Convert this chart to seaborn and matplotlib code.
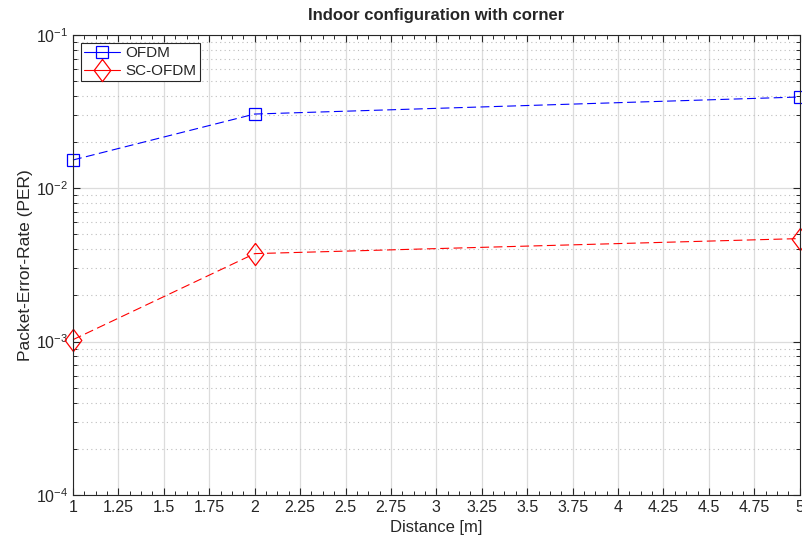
import numpy as np
import pandas as pd
import matplotlib
matplotlib.use('Agg')
import matplotlib.pyplot as plt
import seaborn as sns
from matplotlib.ticker import LogLocator, NullFormatter, MultipleLocator, FixedLocator

# data
distance = [1, 2, 5]
per_ofdm = [0.0153, 0.0305, 0.0394]
per_scofdm = [0.00103, 0.00375, 0.0047]
x_ticks = [1, 1.25, 1.5, 1.75, 2, 2.25, 2.5, 2.75, 3, 3.25, 3.5, 3.75, 4, 4.25, 4.5, 4.75, 5]
x_tick_labels = ['1', '1.25', '1.5', '1.75', '2', '2.25', '2.5', '2.75', '3', '3.25',
                 '3.5', '3.75', '4', '4.25', '4.5', '4.75', '5']
y_ticks = [1e-4, 1e-3, 1e-2, 1e-1]
y_tick_labels = ['10$^{-4}$', '10$^{-3}$', '10$^{-2}$', '10$^{-1}$']

sns.set_style('white')
plt.rcParams['font.family'] = ['Liberation Sans', 'DejaVu Sans']
plt.rcParams['mathtext.fontset'] = 'custom'
plt.rcParams['mathtext.rm'] = 'Liberation Sans'
plt.rcParams['mathtext.it'] = 'Liberation Sans'
plt.rcParams['axes.unicode_minus'] = False

fig = plt.figure(figsize=(8.03, 5.38), dpi=100)
ax = fig.add_axes([0.0909, 0.080, 0.905, 0.855])

# tall diamond like MATLAB's
diamond = [(0, 1), (0.75, 0), (0, -1), (-0.75, 0), (0, 1)]

sns.lineplot(x=distance, y=per_ofdm, color='blue', marker='s', markersize=9,
             markerfacecolor='none', markeredgecolor='blue', markeredgewidth=0.9,
             linewidth=0.8, ax=ax, label='OFDM', clip_on=False)
sns.lineplot(x=distance, y=per_scofdm, color='red', marker=diamond, markersize=16,
             markerfacecolor='none', markeredgecolor='red', markeredgewidth=0.9,
             linewidth=0.8, ax=ax, label='SC-OFDM', clip_on=False)
for line in ax.lines:
    line.set_linestyle((0, (8, 4)))

ax.set_yscale('log')
ax.set_ylim(1e-4, 1e-1)
ax.set_xlim(1, 5)
ax.set_xticks(x_ticks)
ax.set_xticklabels(x_tick_labels)
ax.xaxis.set_minor_locator(MultipleLocator(0.0625))
ax.yaxis.set_major_locator(FixedLocator(y_ticks))
ax.set_yticklabels(y_tick_labels)
ax.yaxis.set_minor_locator(LogLocator(base=10, subs=np.arange(2, 10), numticks=20))
ax.yaxis.set_minor_formatter(NullFormatter())

ax.xaxis.grid(True, which='major', color='#dcdcdc', linewidth=0.9, linestyle='-')
ax.yaxis.grid(True, which='major', color='#dcdcdc', linewidth=0.9, linestyle='-')
ax.yaxis.grid(True, which='minor', color='#bdbdbd', linewidth=0.8, linestyle=(0, (1, 3)))
ax.xaxis.grid(False, which='minor')
ax.set_axisbelow(True)

ax.tick_params(which='both', direction='in', top=True, right=True, bottom=True, left=True,
               colors='#262626', labelsize=11.5)
ax.tick_params(which='major', length=5, width=0.8)
ax.tick_params(which='minor', length=3, width=0.7)
for sp in ax.spines.values():
    sp.set_color('#262626')
    sp.set_linewidth(0.8)

ax.set_xlabel('Distance [m]', fontsize=12, labelpad=4, color='#262626')
ax.set_ylabel('Packet-Error-Rate (PER)', fontsize=12.5, labelpad=2, color='#262626')
ax.set_title('Indoor configuration with corner', fontsize=12, fontweight='bold', pad=11)

leg = ax.legend(loc='upper left', fontsize=11, frameon=True, fancybox=False,
                edgecolor='#262626', framealpha=1, borderpad=0.2, labelspacing=0.25,
                handlelength=2.3, handletextpad=0.4, borderaxespad=0.55)
leg.get_frame().set_linewidth(0.8)
for h in leg.legend_handles:
    h.set_linestyle('-')

fig.savefig('out.png', dpi=100)
